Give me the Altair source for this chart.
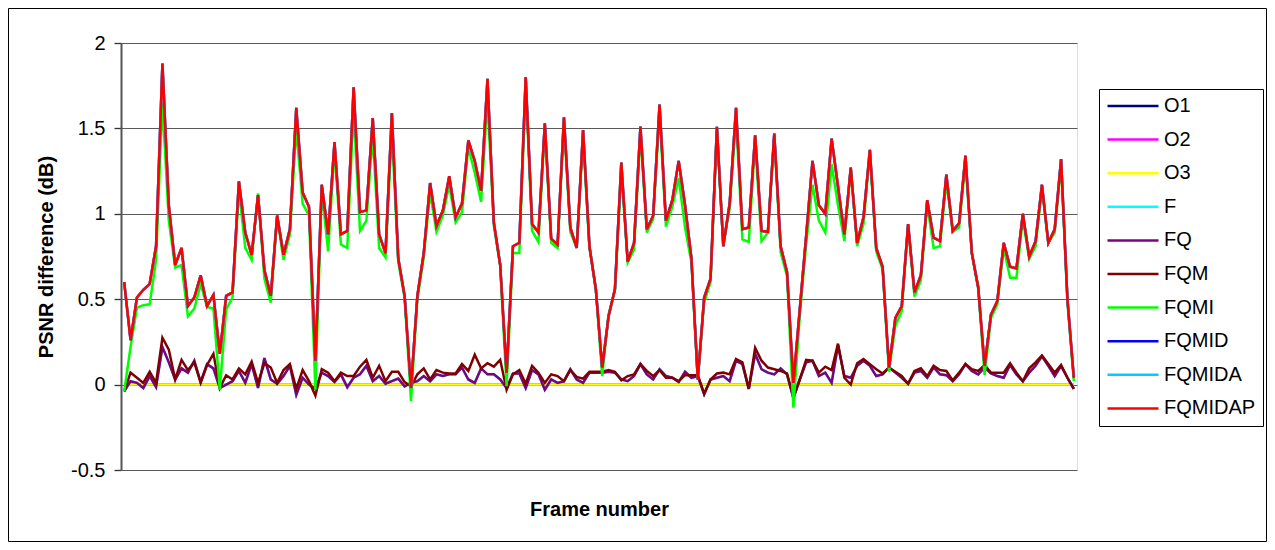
import altair as alt
import pandas as pd

# ---- data (150 frames) ----
FQMIDAP = [0.60, 0.26, 0.51, 0.555, 0.59, 0.81, 1.88, 1.05, 0.70, 0.80,
           0.46, 0.51, 0.64, 0.46, 0.525, 0.18, 0.52, 0.54, 1.19, 0.89,
           0.76, 1.11, 0.67, 0.52, 0.99, 0.76, 0.91, 1.62, 1.125, 1.04,
           0.14, 1.17, 0.88, 1.42, 0.88, 0.90, 1.74, 1.01, 1.02, 1.56,
           0.88, 0.77, 1.59, 0.74, 0.52, -0.02, 0.52, 0.77, 1.18, 0.93,
           1.02, 1.22, 0.98, 1.06, 1.43, 1.31, 1.135, 1.79, 0.95, 0.70,
           0.07, 0.81, 0.83, 1.80, 0.94, 0.89, 1.53, 0.855, 0.82, 1.565,
           0.92, 0.80, 1.49, 0.81, 0.56, 0.10, 0.40, 0.56, 1.30, 0.72,
           0.83, 1.51, 0.91, 0.99, 1.64, 0.96, 1.08, 1.31, 1.05, 0.74,
           0.03, 0.51, 0.62, 1.51, 0.81, 1.06, 1.62, 0.91, 0.92, 1.46,
           0.90, 0.895, 1.47, 0.81, 0.66, 0.01, 0.44, 0.87, 1.31, 1.05,
           1.00, 1.44, 1.16, 0.88, 1.27, 0.83, 0.98, 1.375, 0.80, 0.69,
           0.10, 0.39, 0.46, 0.94, 0.54, 0.64, 1.08, 0.86, 0.84, 1.23,
           0.90, 0.945, 1.34, 0.77, 0.57, 0.11, 0.41, 0.49, 0.83, 0.69,
           0.68, 1.00, 0.75, 0.84, 1.17, 0.83, 0.91, 1.32, 0.50, 0.04]

FQMI = [-0.04, 0.22, 0.45, 0.465, 0.47, 0.73, 1.65, 0.96, 0.685, 0.70,
        0.40, 0.445, 0.59, 0.455, 0.445, -0.03, 0.44, 0.51, 1.14, 0.80,
        0.73, 1.12, 0.62, 0.48, 0.98, 0.73, 0.88, 1.50, 1.06, 0.99,
        -0.03, 1.135, 0.78, 1.38, 0.82, 0.80, 1.61, 0.90, 0.96, 1.46,
        0.80, 0.745, 1.48, 0.715, 0.51, -0.095, 0.50, 0.745, 1.125, 0.895,
        0.99, 1.17, 0.95, 1.01, 1.39, 1.24, 1.07, 1.67, 0.93, 0.695,
        -0.01, 0.77, 0.77, 1.75, 0.90, 0.835, 1.50, 0.83, 0.80, 1.525,
        0.895, 0.80, 1.44, 0.80, 0.56, 0.05, 0.41, 0.55, 1.25, 0.715,
        0.79, 1.47, 0.89, 0.97, 1.59, 0.925, 1.04, 1.21, 0.92, 0.715,
        0.03, 0.48, 0.60, 1.48, 0.82, 1.03, 1.565, 0.85, 0.835, 1.42,
        0.84, 0.89, 1.455, 0.775, 0.635, -0.135, 0.40, 0.82, 1.17, 0.96,
        0.89, 1.29, 1.05, 0.84, 1.26, 0.81, 0.94, 1.36, 0.78, 0.675,
        0.075, 0.345, 0.43, 0.93, 0.515, 0.61, 1.055, 0.80, 0.81, 1.19,
        0.895, 0.92, 1.30, 0.765, 0.56, 0.055, 0.39, 0.47, 0.80, 0.625,
        0.625, 0.97, 0.735, 0.81, 1.145, 0.83, 0.89, 1.29, 0.48, 0.02]

FQM = [-0.04, 0.07, 0.04, 0.01, 0.075, 0.01, 0.275, 0.205, 0.03, 0.145,
       0.085, 0.13, 0.01, 0.115, 0.18, -0.02, 0.055, 0.03, 0.095, 0.06,
       0.135, 0.01, 0.125, 0.10, 0.01, 0.085, 0.12, -0.025, 0.085, 0.02,
       -0.065, 0.09, 0.07, 0.02, 0.07, 0.05, 0.05, 0.105, 0.145, 0.04,
       0.11, 0.02, 0.075, 0.075, 0.015, -0.01, 0.06, 0.095, 0.03, 0.085,
       0.07, 0.065, 0.065, 0.12, 0.08, 0.175, 0.095, 0.125, 0.105, 0.145,
       -0.03, 0.06, 0.085, 0.005, 0.11, 0.07, 0.01, 0.06, 0.05, 0.02,
       0.085, 0.045, 0.035, 0.075, 0.075, 0.075, 0.085, 0.075, 0.025, 0.05,
       0.06, 0.12, 0.08, 0.05, 0.085, 0.04, 0.04, 0.02, 0.055, 0.055,
       0.055, -0.055, 0.03, 0.065, 0.07, 0.06, 0.15, 0.13, -0.025, 0.215,
       0.14, 0.10, 0.09, 0.08, 0.065, -0.075, 0.03, 0.145, 0.14, 0.07,
       0.105, 0.085, 0.24, 0.04, 0.00, 0.125, 0.15, 0.12, 0.09, 0.065,
       0.10, 0.075, 0.05, 0.005, 0.08, 0.095, 0.05, 0.11, 0.085, 0.08,
       0.025, 0.07, 0.12, 0.09, 0.08, 0.115, 0.07, 0.07, 0.07, 0.125,
       0.07, 0.02, 0.095, 0.13, 0.17, 0.12, 0.07, 0.115, 0.04, -0.025]

FQ = [-0.04, 0.02, 0.01, -0.02, 0.05, -0.015, 0.22, 0.13, 0.03, 0.095,
      0.07, 0.14, 0.015, 0.12, 0.095, -0.02, 0.00, 0.02, 0.08, 0.01,
      0.12, -0.02, 0.155, 0.03, 0.005, 0.05, 0.11, -0.06, 0.04, 0.00,
      -0.025, 0.07, 0.05, 0.015, 0.06, -0.015, 0.04, 0.06, 0.11, 0.02,
      0.05, 0.005, 0.02, 0.035, -0.01, 0.01, 0.02, 0.05, 0.02, 0.06,
      0.05, 0.06, 0.06, 0.10, 0.03, 0.01, 0.095, 0.06, 0.06, 0.03,
      -0.02, 0.065, 0.065, -0.02, 0.085, 0.06, -0.03, 0.03, 0.01, 0.02,
      0.09, 0.03, 0.01, 0.07, 0.07, 0.07, 0.075, 0.07, 0.03, 0.02,
      0.05, 0.12, 0.06, 0.03, 0.09, 0.05, 0.04, 0.015, 0.075, 0.04,
      0.05, -0.055, 0.03, 0.04, 0.05, 0.02, 0.14, 0.12, -0.025, 0.18,
      0.09, 0.07, 0.06, 0.095, 0.06, -0.08, 0.03, 0.13, 0.14, 0.05,
      0.07, 0.01, 0.23, 0.05, 0.04, 0.11, 0.14, 0.11, 0.05, 0.06,
      0.10, 0.07, 0.04, 0.005, 0.07, 0.08, 0.04, 0.10, 0.06, 0.055,
      0.02, 0.06, 0.12, 0.08, 0.06, 0.10, 0.065, 0.05, 0.04, 0.115,
      0.06, 0.02, 0.07, 0.11, 0.165, 0.11, 0.05, 0.11, 0.04, -0.025]

# series that are hidden under others in the reference
F = list(FQ)
FQMID = list(FQMIDAP)
FQMIDA = list(FQMIDAP)
O1 = [0.0] * 150
O2 = [0.0] * 150
O3 = [0.0] * 150

series_names = ["O1", "O2", "O3", "F", "FQ", "FQM", "FQMI", "FQMID", "FQMIDA", "FQMIDAP"]
series_values = [O1, O2, O3, F, FQ, FQM, FQMI, FQMID, FQMIDA, FQMIDAP]
series_colors = ["#000080", "#FF00FF", "#FFFF00", "#00FFFF", "#800080",
                 "#800000", "#00FF00", "#0000FF", "#00CCFF", "#FF0000"]
y_ticks = [-0.5, 0, 0.5, 1, 1.5, 2]

rows = []
for name, vals in zip(series_names, series_values):
    for i, v in enumerate(vals):
        rows.append({"frame": i, "value": v, "series": name})
df = pd.DataFrame(rows)

FONT = "Liberation Sans"
W, H = 956, 427
PAD = {"left": 113, "top": 35, "right": 190, "bottom": 72}

color = alt.Color(
    "series:N",
    scale=alt.Scale(domain=series_names, range=series_colors),
    legend=alt.Legend(
        title=None, orient="none", legendX=978, legendY=46,
        padding=7, strokeColor="black", fillColor="white",
        symbolType="stroke", symbolSize=2601, symbolStrokeWidth=2.5,
        clipHeight=20, rowPadding=13.6,
        labelFont=FONT, labelFontSize=20, labelColor="black", labelOffset=4,
    ),
)

x = alt.X(
    "frame:Q",
    scale=alt.Scale(domain=[-0.5, 149.5], nice=False, zero=False),
    axis=alt.Axis(labels=False, ticks=False, domain=False, grid=False,
                  title="Frame number", titleFont=FONT, titleFontSize=20,
                  titleFontWeight="bold", titleColor="black",
                  titleX=W / 2, titleY=45, titleAlign="center",
                  titleBaseline="alphabetic"),
)
y = alt.Y(
    "value:Q",
    scale=alt.Scale(domain=[-0.5, 2], nice=False, zero=False),
    axis=alt.Axis(values=y_ticks, labelExpr="'' + datum.value",
                  labelFont=FONT, labelFontSize=20, labelColor="black",
                  labelPadding=9, tickSize=7, tickColor="#333333", tickWidth=1.3,
                  domainColor="#555555", domainWidth=2,
                  grid=True, gridColor="#5a5a5a", gridWidth=1.2,
                  title="PSNR difference (dB)", titleFont=FONT, titleFontSize=20,
                  titleFontWeight="bold", titleColor="black",
                  titleAngle=270, titleX=-69, titleY=H / 2,
                  titleAlign="center", titleBaseline="alphabetic"),
)

layers = []
for name in series_names:
    layers.append(
        alt.Chart(df)
        .transform_filter(alt.datum.series == name)
        .mark_line(strokeWidth=2.5)
        .encode(x=x, y=y, color=color)
    )

frame = (
    alt.Chart(pd.DataFrame({"a": [0]}))
    .mark_rect(fillOpacity=0, stroke="black", strokeWidth=1)
    .encode(
        x=alt.value(-PAD["left"] + 0.5),
        x2=alt.value(W + PAD["right"] - 0.5),
        y=alt.value(-PAD["top"] + 0.5),
        y2=alt.value(H + PAD["bottom"] - 0.5),
    )
)

chart = (
    alt.layer(frame, *layers)
    .properties(width=W, height=H, padding=PAD, autosize=alt.AutoSizeParams(type="none"))
    .configure_view(stroke="#888888", strokeWidth=2)
    .configure(background="white")
)

chart.save("out.html", embed_options={"renderer": "svg", "actions": False})
